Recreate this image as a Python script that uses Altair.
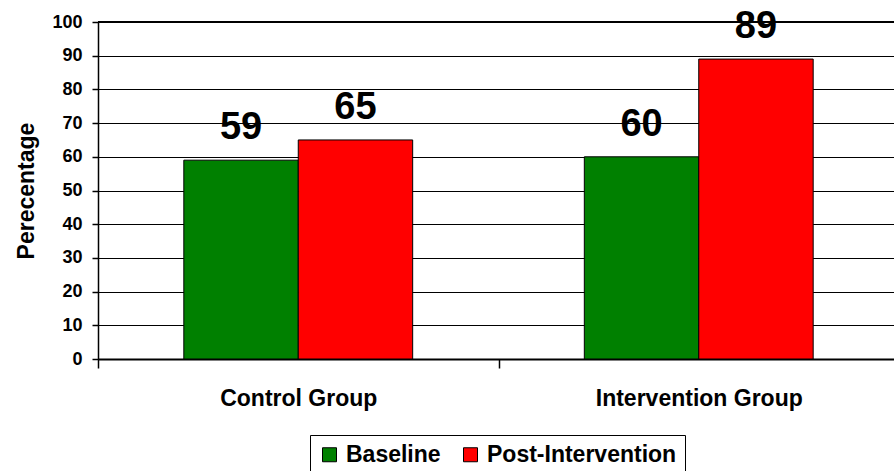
import altair as alt
import pandas as pd

# Groups, series and the percentages shown on the bars
groups = ["Control Group", "Intervention Group"]
series = ["Baseline", "Post-Intervention"]
baseline = [59, 60]
post_intervention = [65, 89]
colors = ["#008000", "#FF0000"]
y_ticks = [0, 10, 20, 30, 40, 50, 60, 70, 80, 90, 100]

rows = []
for g, b, p in zip(groups, baseline, post_intervention):
    rows.append({"group": g, "series": series[0], "value": b})
    rows.append({"group": g, "series": series[1], "value": p})
df = pd.DataFrame(rows)

FONT = "Liberation Sans"

x_enc = alt.X(
    "group:N",
    sort=groups,
    scale=alt.Scale(range=[0, 801], paddingInner=0, paddingOuter=0),
    axis=alt.Axis(
        title=None,
        labelAngle=0,
        labelFont=FONT,
        labelFontSize=23,
        labelFontWeight="bold",
        labelColor="black",
        labelPadding=19,
        labelLimit=0,
        tickBand="extent",
        tickSize=9,
        tickColor="black",
        tickWidth=1.5,
        domainColor="black",
        domainWidth=2,
        grid=False,
    ),
)
xoff_enc = alt.XOffset(
    "series:N", sort=series, scale=alt.Scale(paddingOuter=0.75, paddingInner=0)
)
y_enc = alt.Y(
    "value:Q",
    scale=alt.Scale(domain=[0, 100], nice=False),
    axis=alt.Axis(
        title="Perecentage",
        values=y_ticks,
        labelOverlap=False,
        titleFont=FONT,
        titleFontSize=23,
        titleFontWeight="bold",
        titleColor="black",
        titlePadding=13,
        labelFont=FONT,
        labelFontSize=18,
        labelFontWeight="bold",
        labelColor="black",
        labelPadding=10,
        tickSize=6,
        tickColor="black",
        tickWidth=1.5,
        domainColor="black",
        domainWidth=1.5,
        grid=True,
        gridColor="black",
        gridWidth=1.2,
        gridOpacity=1,
    ),
)

bars = alt.Chart(df).mark_bar(stroke="black", strokeWidth=1).encode(
    x=x_enc,
    xOffset=xoff_enc,
    y=y_enc,
    color=alt.Color(
        "series:N",
        sort=series,
        scale=alt.Scale(domain=series, range=colors),
        legend=alt.Legend(
            title=None,
            orient="none",
            legendX=212,
            legendY=413,
            direction="horizontal",
            symbolType="square",
            symbolSize=196,
            symbolStrokeColor="black",
            symbolStrokeWidth=1,
            symbolOpacity=1,
            labelFont=FONT,
            labelFontSize=23,
            labelFontWeight="bold",
            labelColor="black",
            labelLimit=0,
            columnPadding=18,
            labelOffset=5,
            padding=8,
            strokeColor="black",
            fillColor="white",
        ),
    ),
)

labels = alt.Chart(df).mark_text(
    font=FONT,
    fontSize=38,
    fontWeight="bold",
    color="black",
    baseline="alphabetic",
    dy=-21,
).encode(
    x=x_enc,
    xOffset=xoff_enc,
    y=y_enc,
    text="value:Q",
)

# Plot-area top edge, drawn a little heavier than the gridlines
top_border = alt.Chart(pd.DataFrame({"value": [100]})).mark_rule(
    color="black", strokeWidth=2
).encode(y=y_enc)

chart = (
    alt.layer(bars, top_border, labels)
    .properties(
        width=796,
        height=337,
        autosize=alt.AutoSizeParams(type="none"),
        padding={"left": 98, "top": 22, "right": 0, "bottom": 112},
        background="white",
    )
    .configure_view(stroke=None)
)

chart.save("out.html", embed_options={"renderer": "svg", "actions": False})
